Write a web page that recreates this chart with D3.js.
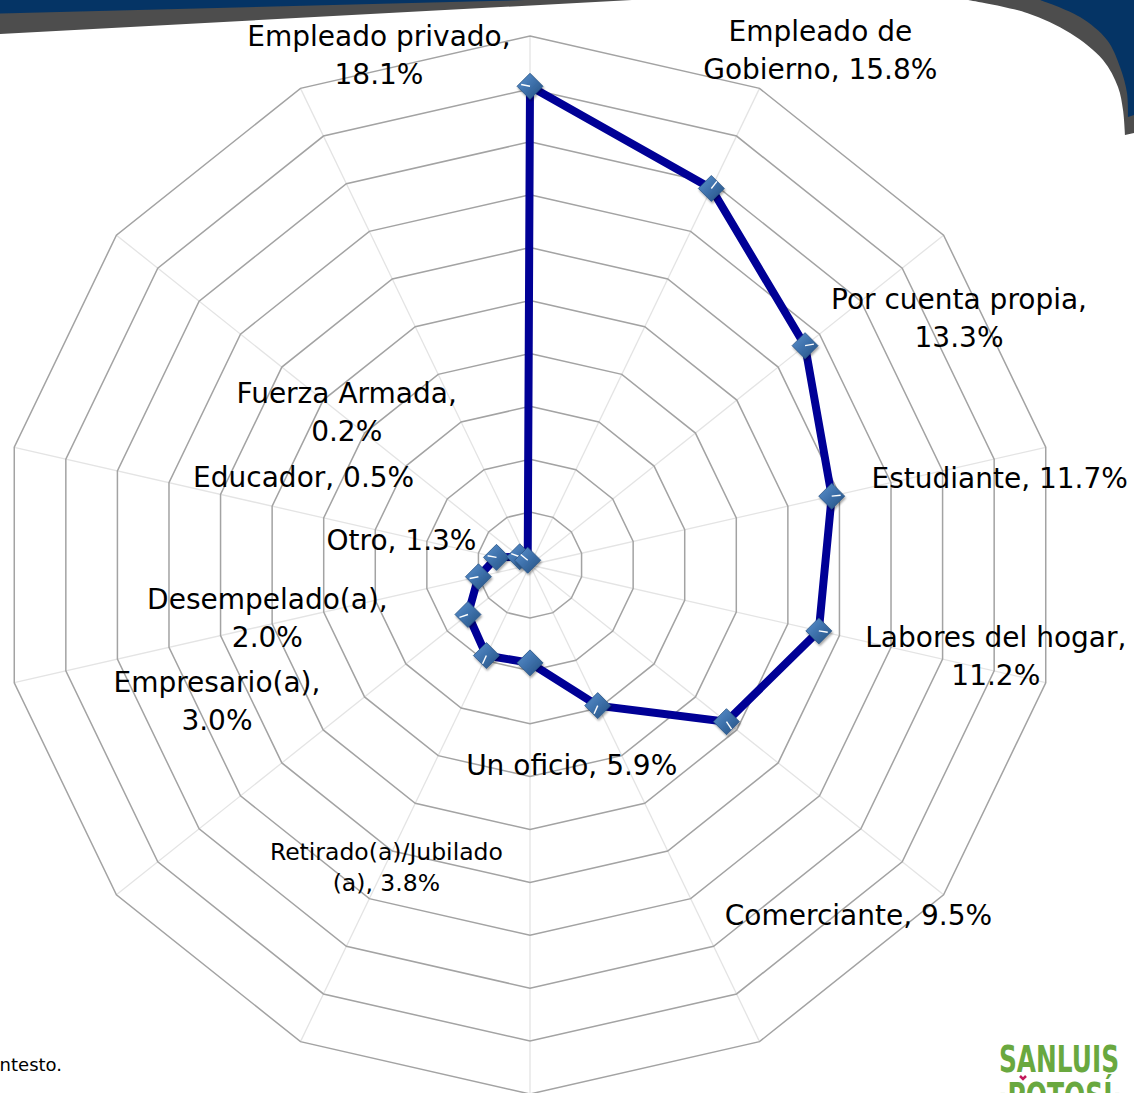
<!DOCTYPE html>
<html>
<head>
<meta charset="utf-8">
<script src="https://cdn.jsdelivr.net/npm/d3@7"></script>
<style>
  html, body { margin: 0; padding: 0; background: #fff; overflow: hidden; }
  text { font-family: "DejaVu Sans", Verdana, sans-serif; fill: #000; }
</style>
</head>
<body>
<svg id="chart" width="1134" height="1093"></svg>
<script>
// Occupation categories, clockwise from the top
const categories = [
  "Empleado privado", "Empleado de Gobierno", "Por cuenta propia", "Estudiante",
  "Labores del hogar", "Comerciante", "Un oficio", "No contestó",
  "Retirado(a)/Jubilado(a)", "Empresario(a)", "Desempelado(a)", "Otro",
  "Educador", "Fuerza Armada"
];
// Share of respondents (%)
const values = [18.1, 15.8, 13.3, 11.7, 11.2, 9.5, 5.9, 3.7, 3.8, 3.0, 2.0, 1.3, 0.5, 0.2];
// Concentric gridline values
const ringTicks = [2, 4, 6, 8, 10, 12, 14, 16, 18, 20];

// Label placement: offset of first baseline from the marker, wrap point, font size
const labelLayout = [
  { dx: -151, dy: -40,  split: 17 },
  { dx: 109,  dy: -147, split: 11 },
  { dx: 154,  dy: -37,  split: 18 },
  { dx: 168,  dy: -8,   split: 0 },
  { dx: 177,  dy: 16,   split: 18 },
  { dx: 132,  dy: 203,  split: 0 },
  { dx: -26,  dy: 69,   split: 0 },
  null,
  { dx: -100, dy: 204,  split: 20, size: 23.5, lead: 31 },
  { dx: -251, dy: 78,   split: 14 },
  { dx: -211, dy: 32,   split: 15 },
  { dx: -95,  dy: -7,   split: 0 },
  { dx: -216, dy: -70,  split: 0 },
  { dx: -181, dy: -157, split: 14 }
];

const W = 1134, H = 1093;
const cx = 530, cy = 565, outerR = 529;
const svg = d3.select("#chart");
const fmt = d3.format(".1f");

// ---- slide decoration: header swooshes ----
const deco = svg.append("g");
deco.append("path").attr("d", "M0,0 L632,0 L0,34 Z").attr("fill", "#4d4d4d");
deco.append("path").attr("d", "M0,0 L525,0 L0,13.5 Z").attr("fill", "#053465");
const swoosh = d3.line().curve(d3.curveCatmullRom);
const grayEdge = [[968,0],[1027,13],[1070,33],[1103,60],[1118,87],[1123,110],[1125,135]];
const navyEdge = [[1040,0],[1080,17],[1107,40],[1120,67],[1127,93],[1128,117]];
deco.append("path").attr("d", swoosh(grayEdge) + "L1134,133 L1134,0 Z").attr("fill", "#4d4d4d");
deco.append("path").attr("d", swoosh(navyEdge) + "L1134,115 L1134,0 Z").attr("fill", "#053465");

// ---- radar scales ----
const r = d3.scaleLinear().domain([0, 20]).range([0, outerR]);
const angle = d3.scaleLinear().domain([0, categories.length]).range([0, 2 * Math.PI]);
const px = (i, v) => cx + r(v) * Math.sin(angle(i));
const py = (i, v) => cy - r(v) * Math.cos(angle(i));

const g = svg.append("g");

// spokes
g.append("g").selectAll("line").data(categories).join("line")
  .attr("x1", cx).attr("y1", cy)
  .attr("x2", (d, i) => px(i, 20)).attr("y2", (d, i) => py(i, 20))
  .attr("stroke", "#e4e4e4").attr("stroke-width", 1.3);

// rings
const ringLine = d3.lineRadial()
  .angle((d, i) => angle(i))
  .radius(d => r(d))
  .curve(d3.curveLinearClosed);
g.append("g").attr("transform", `translate(${cx},${cy})`)
  .selectAll("path").data(ringTicks).join("path")
  .attr("d", t => ringLine(categories.map(() => t)))
  .attr("fill", "none").attr("stroke", "#a3a3a3").attr("stroke-width", 1.5);

// data polygon
const dataLine = d3.lineRadial()
  .angle((d, i) => angle(i))
  .radius(d => r(d))
  .curve(d3.curveLinearClosed);
g.append("path").attr("transform", `translate(${cx},${cy})`)
  .attr("d", dataLine(values))
  .attr("fill", "none").attr("stroke", "#000096").attr("stroke-width", 8)
  .attr("stroke-linejoin", "miter");

// marker styling
const defs = svg.append("defs");
const grad = defs.append("linearGradient").attr("id", "mk")
  .attr("x1", "0").attr("y1", "0").attr("x2", "1").attr("y2", "1");
grad.append("stop").attr("offset", "0").attr("stop-color", "#5c92cf");
grad.append("stop").attr("offset", "0.5").attr("stop-color", "#3d70aa");
grad.append("stop").attr("offset", "1").attr("stop-color", "#24507f");
const sh = defs.append("filter").attr("id", "shadow").attr("x", "-50%").attr("y", "-50%")
  .attr("width", "200%").attr("height", "200%");
sh.append("feDropShadow").attr("dx", 1).attr("dy", 2).attr("stdDeviation", 1.2)
  .attr("flood-color", "#000").attr("flood-opacity", 0.35);

const pts = values.map((v, i) => ({ i, v, x: px(i, v), y: py(i, v), lay: labelLayout[i] }));

// label positions
pts.forEach(p => {
  if (!p.lay) return;
  const full = `${categories[p.i]}, ${fmt(p.v)}%`;
  p.lines = p.lay.split ? [full.slice(0, p.lay.split).trim(), full.slice(p.lay.split).trim()] : [full];
  p.size = p.lay.size || 28;
  p.lead = p.lay.lead || 38;
  p.lx = p.x + p.lay.dx;
  p.ly = p.y + p.lay.dy;
});

const mk = g.append("g").selectAll("g").data(pts).join("g")
  .attr("transform", d => `translate(${d.x},${d.y})`);
mk.append("path").attr("d", "M0,-13 L13,0 L0,13 L-13,0 Z")
  .attr("fill", "url(#mk)").attr("stroke", "#2a5686").attr("stroke-width", 0.8)
  .attr("filter", "url(#shadow)");
// short leader toward each label
mk.filter(d => d.lay).append("line")
  .each(function (d) {
    const mx = d.lx - d.x, my = (d.ly - d.size * 0.35 + (d.lines.length - 1) * d.lead / 2) - d.y;
    const len = Math.hypot(mx, my) || 1;
    d3.select(this).attr("x1", 0).attr("y1", 0)
      .attr("x2", mx / len * 9).attr("y2", my / len * 9);
  })
  .attr("stroke", "#fff").attr("stroke-width", 1.4);

// data labels
const lab = svg.append("g").selectAll("text").data(pts.filter(p => p.lay)).join("text")
  .attr("text-anchor", "middle")
  .attr("font-size", d => d.size)
  .attr("x", d => d.lx).attr("y", d => d.ly);
lab.selectAll("tspan").data(d => d.lines.map((t, k) => ({ t, k, d }))).join("tspan")
  .attr("x", o => o.d.lx)
  .attr("dy", o => o.k === 0 ? 0 : o.d.lead)
  .text(o => o.t);

// footnote (runs off the left edge)
svg.append("text").attr("x", 62).attr("y", 1071).attr("text-anchor", "end")
  .attr("font-size", 18).text("No contesto.");

// state logo
const logo = svg.append("g");
logo.append("text").attr("x", 999).attr("y", 1072).attr("font-size", 38)
  .attr("font-weight", "bold").attr("textLength", 120).attr("lengthAdjust", "spacingAndGlyphs")
  .style("fill", "#69a83f").text("SANLUIS");
logo.append("text").attr("x", 998).attr("y", 1109).attr("font-size", 38)
  .attr("font-weight", "bold").attr("textLength", 124).attr("lengthAdjust", "spacingAndGlyphs")
  .style("fill", "#69a83f").text("·POTOSÍ·");
logo.append("path").attr("d", "M1020,1076 l3,3 l3,-3").attr("fill", "none")
  .attr("stroke", "#c2185b").attr("stroke-width", 2.5);
</script>
</body>
</html>
